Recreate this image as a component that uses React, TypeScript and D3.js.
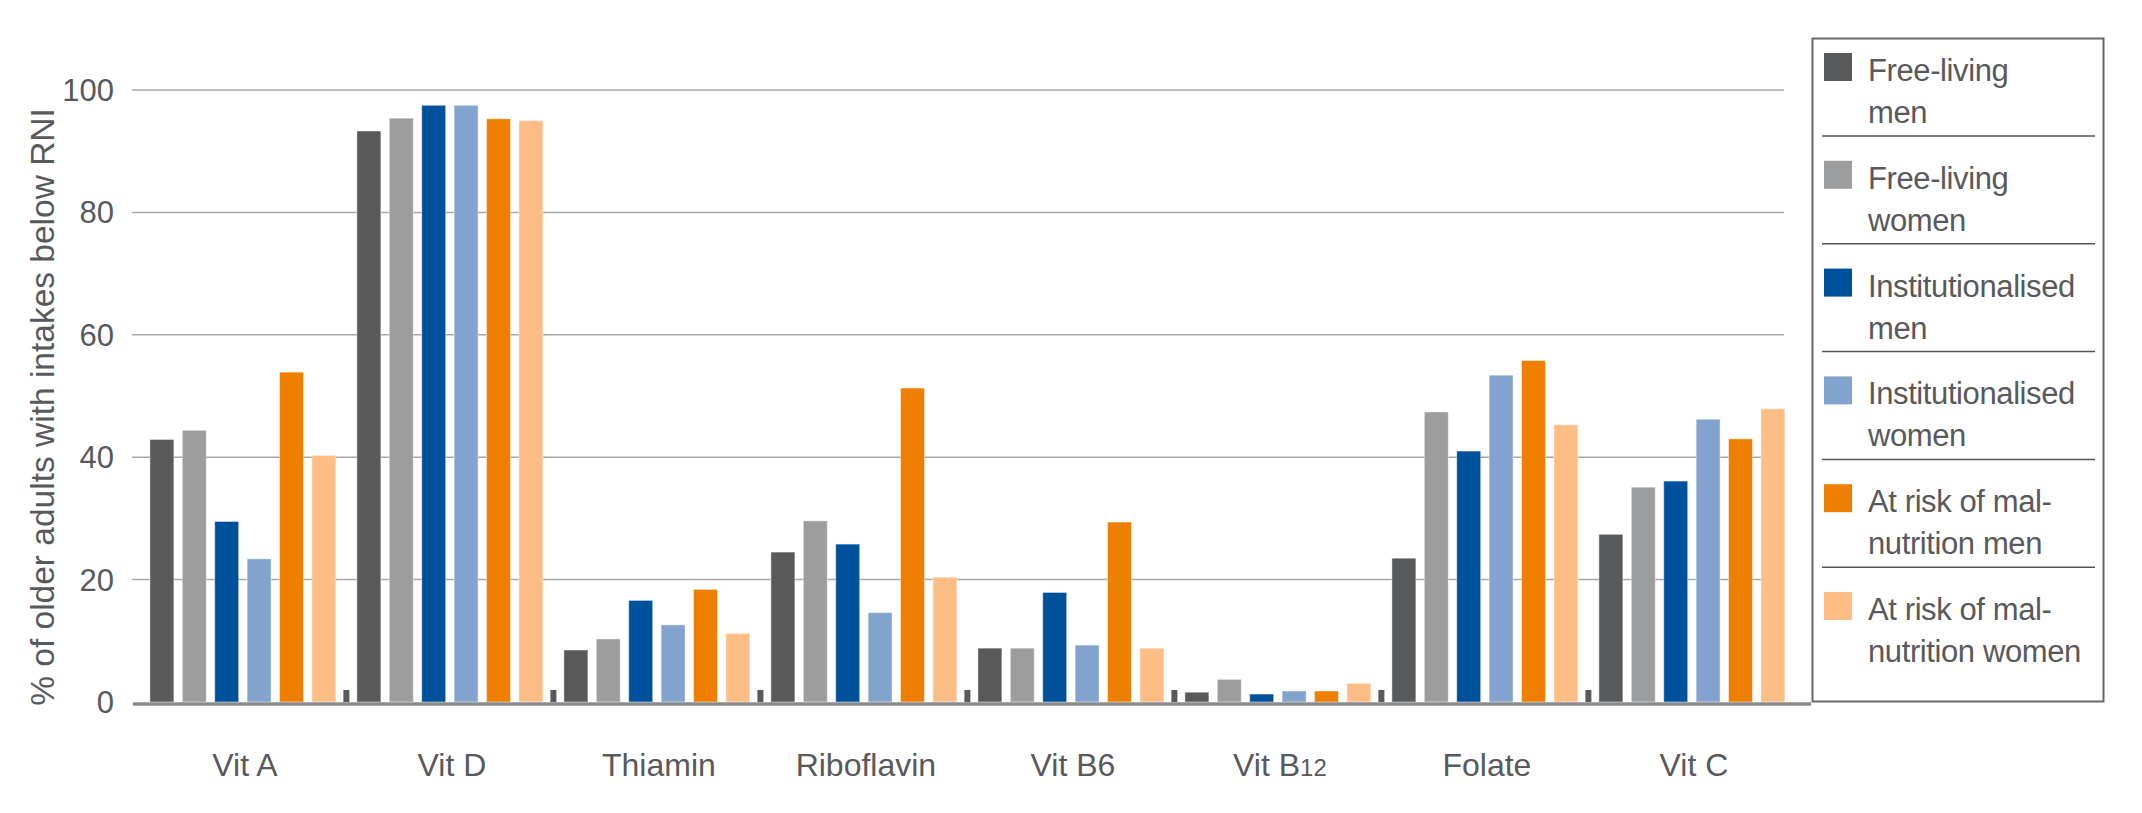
import * as d3 from 'd3';
import { useEffect, useRef } from 'react';

const categories = ['Vit A', 'Vit D', 'Thiamin', 'Riboflavin', 'Vit B6', 'Vit B12', 'Folate', 'Vit C'];

const seriesNames = [
    ['Free-living', 'men'],
    ['Free-living', 'women'],
    ['Institutionalised', 'men'],
    ['Institutionalised', 'women'],
    ['At risk of mal-', 'nutrition men'],
    ['At risk of mal-', 'nutrition women'],
];

const freeLivingMen = [42.9, 93.3, 8.5, 24.5, 8.8, 1.6, 23.5, 27.4];
const freeLivingWomen = [44.4, 95.4, 10.3, 29.6, 8.8, 3.7, 47.4, 35.1];
const instMen = [29.5, 97.5, 16.6, 25.8, 17.9, 1.3, 41.0, 36.1];
const instWomen = [23.4, 97.5, 12.6, 14.6, 9.3, 1.8, 53.4, 46.2];
const riskMen = [53.9, 95.3, 18.4, 51.3, 29.4, 1.8, 55.8, 43.0];
const riskWomen = [40.3, 95.0, 11.2, 20.4, 8.8, 3.05, 45.3, 47.9];

const yTicks = [0, 20, 40, 60, 80, 100];

const colors = ['#58595b', '#9c9d9f', '#00519b', '#82a3cd', '#ee7f00', '#ffbd86'];

const App = () => {
    const ref = useRef<SVGSVGElement>(null);

    useEffect(() => {
        drawChart();
    }, []);

    const drawChart = () => {
        const width = 2142;
        const height = 813;
        const font = '"Liberation Sans", Arial, Helvetica, sans-serif';
        const textColor = '#58595b';
        const allSeries = [freeLivingMen, freeLivingWomen, instMen, instWomen, riskMen, riskWomen];

        const svg = d3.select(ref.current);
        svg.selectAll('*').remove();
        svg.attr('width', width).attr('height', height).attr('viewBox', `0 0 ${width} ${height}`);

        svg.append('rect').attr('width', width).attr('height', height).attr('fill', '#fff');

        const x: any = d3.scaleBand().domain(categories).range([139.4, 1795.4]).padding(0);
        const xInner: any = d3.scaleBand()
            .domain(d3.range(allSeries.length).map(String))
            .range([10.5, x.bandwidth() - 10.5])
            .paddingInner(0.26)
            .paddingOuter(0);
        const y = d3.scaleLinear().domain([0, 100]).range([702, 90]);

        // gridlines
        svg.append('g')
            .selectAll('line')
            .data(yTicks.filter((t) => t > 0))
            .enter()
            .append('line')
            .attr('x1', 132)
            .attr('x2', 1784)
            .attr('y1', (d: number) => y(d))
            .attr('y2', (d: number) => y(d))
            .attr('stroke', '#a8a8a8')
            .attr('stroke-width', 1.5);

        // y tick labels
        svg.append('g')
            .selectAll('text')
            .data(yTicks)
            .enter()
            .append('text')
            .attr('x', 114)
            .attr('y', (d: number) => y(d) + 11)
            .attr('text-anchor', 'end')
            .style('font-family', font)
            .style('font-size', '31px')
            .style('fill', textColor)
            .text((d: number) => d);

        // y title
        svg.append('text')
            .attr('transform', 'translate(54,407) rotate(-90)')
            .attr('text-anchor', 'middle')
            .style('font-family', font)
            .style('font-size', '33.5px')
            .style('fill', textColor)
            .text('% of older adults with intakes below RNI');

        // bars
        const groups = svg.append('g')
            .selectAll('g')
            .data(categories)
            .enter()
            .append('g')
            .attr('transform', (d: string) => `translate(${x(d)},0)`);

        groups.selectAll('rect')
            .data((_d: string, i: number) => allSeries.map((s, j) => ({ key: String(j), value: s[i] })))
            .enter()
            .append('rect')
            .attr('x', (d: any) => xInner(d.key))
            .attr('width', xInner.bandwidth())
            .attr('y', (d: any) => y(d.value))
            .attr('height', (d: any) => y(0) - y(d.value))
            .attr('fill', (d: any) => colors[+d.key])
            .attr('stroke', '#fff')
            .attr('stroke-opacity', 0.45)
            .attr('stroke-width', 1);

        // category tick stubs between groups
        svg.append('g')
            .selectAll('rect')
            .data(categories.slice(1))
            .enter()
            .append('rect')
            .attr('x', (d: string) => x(d) - 3)
            .attr('width', 6)
            .attr('y', y(0) - 12)
            .attr('height', 12)
            .attr('fill', '#58595b');

        // x axis line
        svg.append('line')
            .attr('x1', 133)
            .attr('x2', 1811)
            .attr('y1', y(0) + 2)
            .attr('y2', y(0) + 2)
            .attr('stroke', '#8a8b8c')
            .attr('stroke-width', 3.5);

        // category labels
        const labels = svg.append('g')
            .selectAll('text')
            .data(categories)
            .enter()
            .append('text')
            .attr('x', (d: string) => x(d) + x.bandwidth() / 2 + 2)
            .attr('y', 776)
            .attr('text-anchor', 'middle')
            .style('font-family', font)
            .style('font-size', '32px')
            .style('fill', textColor);

        labels.each(function (this: any, d: string) {
            const t = d3.select(this);
            if (d === 'Vit B12') {
                t.append('tspan').text('Vit B');
                t.append('tspan').style('font-size', '24px').text('12');
            } else {
                t.text(d);
            }
        });

        // legend
        const legend = svg.append('g');
        legend.append('rect')
            .attr('x', 1812.5)
            .attr('y', 38.5)
            .attr('width', 291)
            .attr('height', 663)
            .attr('fill', '#fff')
            .attr('stroke', '#666')
            .attr('stroke-width', 2);

        const step = 107.8;
        const items = legend.selectAll('g.item')
            .data(seriesNames)
            .enter()
            .append('g')
            .attr('class', 'item')
            .attr('transform', (_d: any, i: number) => `translate(0,${53 + i * step})`);

        items.append('rect')
            .attr('x', 1824)
            .attr('y', 0)
            .attr('width', 28)
            .attr('height', 28)
            .attr('fill', (_d: any, i: number) => colors[i]);

        items.append('text')
            .attr('x', 1868)
            .attr('y', 28)
            .style('font-family', font)
            .style('font-size', '31px')
            .style('letter-spacing', '-0.4px')
            .style('fill', textColor)
            .text((d: string[]) => d[0]);

        items.append('text')
            .attr('x', 1868)
            .attr('y', 70)
            .style('font-family', font)
            .style('font-size', '31px')
            .style('letter-spacing', '-0.4px')
            .style('fill', textColor)
            .text((d: string[]) => d[1]);

        items.filter((_d: any, i: number) => i < seriesNames.length - 1)
            .append('line')
            .attr('x1', 1822)
            .attr('x2', 2095)
            .attr('y1', 83)
            .attr('y2', 83)
            .attr('stroke', '#555')
            .attr('stroke-width', 1.5);
    };

    return (
        <svg ref={ref} style={{ position: 'absolute', left: 0, top: 0, display: 'block' }}></svg>
    );
};

export default App;
